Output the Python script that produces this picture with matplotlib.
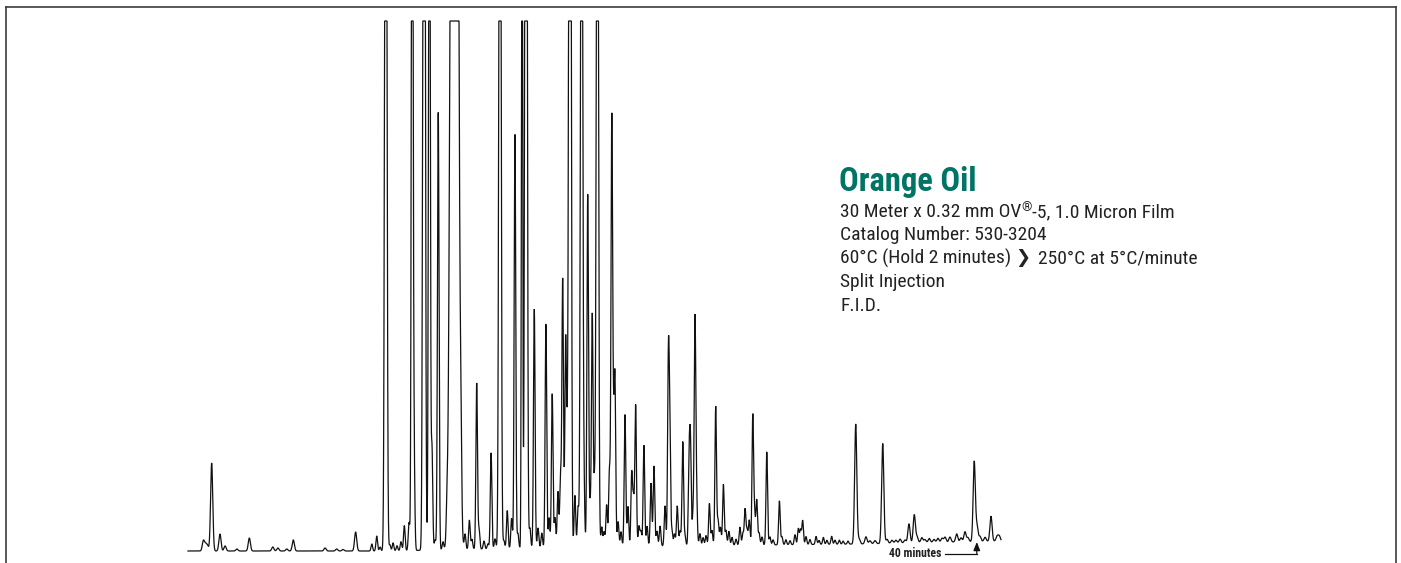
import numpy as np
import matplotlib
matplotlib.use('Agg')
import matplotlib.pyplot as plt
from matplotlib.lines import Line2D

# peak list: retention time (min), height, width (sigma, min)
rt = [0.78, 0.89, 0.99, 1.20, 1.62, 1.88, 2.48, 3.11, 4.30, 4.56,
      5.01, 5.34, 6.95, 7.54, 7.86, 8.50, 9.32, 9.57, 9.74, 10.03,
      10.24, 10.40, 10.60, 10.80, 10.97, 11.21, 11.37, 11.46, 11.97, 12.24,
      12.37, 12.53, 12.69, 12.93, 13.13, 13.51, 13.84, 14.05, 14.27, 14.40,
      14.64, 14.76, 15.01, 15.21, 15.37, 15.57, 15.82, 16.02, 16.19, 16.41,
      16.58, 16.73, 16.94, 17.14, 17.34, 17.56, 17.75, 17.94, 18.15, 18.31,
      18.47, 18.61, 18.76, 18.89, 19.00, 19.15, 19.24, 19.37, 19.62, 19.78,
      19.96, 20.08, 20.27, 20.39, 20.50, 20.61, 20.76, 20.98, 21.10, 21.23,
      21.37, 21.49, 21.57, 21.65, 21.81, 21.96, 22.16, 22.31, 22.50, 22.59,
      22.70, 22.87, 22.97, 23.12, 23.28, 23.48, 23.63, 23.78, 23.94, 24.19,
      24.36, 24.43, 24.54, 24.67, 24.81, 24.95, 25.09, 25.20, 25.41, 25.48,
      25.61, 25.71, 25.79, 25.96, 26.12, 26.27, 26.44, 26.57, 26.76, 26.88,
      27.00, 27.15, 27.28, 27.43, 27.59, 27.79, 27.99, 28.14, 28.25, 28.35,
      28.46, 28.64, 28.73, 28.84, 28.96, 29.11, 29.35, 29.51, 29.67, 29.99,
      30.12, 30.32, 30.53, 30.78, 30.95, 31.06, 31.17, 31.34, 31.54, 31.85,
      32.00, 32.22, 32.40, 32.64, 32.81, 33.03, 33.22, 33.47, 33.86, 34.03,
      34.38, 34.58, 34.84, 35.23, 35.45, 35.70, 35.90, 36.11, 36.36, 36.56,
      36.83, 36.97, 37.21, 37.37, 37.59, 37.83, 38.03, 38.24, 38.39, 38.64,
      38.98, 39.20, 39.40, 39.55, 39.87, 40.01, 40.16, 40.42, 40.72, 41.03,
      41.14]
height = [10, 6, 5, 88, 17, 5, 2, 13, 4, 3,
          2, 11, 3, 2, 1.5, 19, 7, 15, 4, 1200,
          6, 8, 5, 9, 25, 28, 1000, 95, 1500, 1000,
          103, 10, 438, 8, 25, 2650, 65, 15, 29, 10,
          166, 20, 8, 5, 96, 10, 1100, 8, 38, 30,
          414, 15, 800, 1500, 20, 239, 20, 15, 224, 30,
          154, 30, 56, 70, 268, 205, 90, 1500, 52, 40,
          1000, 52, 353, 40, 232, 60, 1000, 20, 15, 42,
          75, 420, 92, 163, 25, 15, 132, 40, 72, 45,
          141, 20, 15, 101, 20, 63, 80, 15, 20, 40,
          180, 110, 15, 12, 40, 15, 104, 10, 80, 96,
          30, 224, 45, 12, 8, 10, 42, 15, 139, 25,
          18, 61, 15, 14, 8, 6, 18, 12, 36, 15,
          25, 129, 30, 45, 12, 8, 93, 8, 5, 44,
          8, 5, 4, 10, 16, 15, 24, 8, 5, 8,
          4, 7, 4, 8, 4, 4, 3, 3, 120, 5,
          7, 3, 3, 100, 4, 3, 3, 4, 3, 19,
          28, 6, 5, 3, 4, 3, 4, 4, 5, 5,
          8, 4, 10, 4, 80, 15, 5, 4, 25, 5,
          5]
width = [0.04] * len(rt)
for i, t in enumerate(rt):
    if t < 9.0 or t > 33.5:
        width[i] = 0.055
for i, t in enumerate(rt):
    if height[i] >= 800:
        width[i] = 0.05
width[rt.index(12.24)] = 0.04
width[rt.index(11.37)] = 0.04
width[rt.index(16.94)] = 0.03
width[rt.index(13.51)] = 0.13

# slow baseline rise of the temperature program
drift_rt = [0, 10, 15, 24, 34, 41.2]
drift_val = [0, 0, 2, 5, 7, 10]

run_end = 41.23
clip_level = 530
arrow_rt = 40.0

t = np.arange(0, run_end, 0.004)
signal = np.interp(t, drift_rt, drift_val)
for r, h, w in zip(rt, height, width):
    signal = signal + h * np.exp(-0.5 * ((t - r) / w) ** 2)
signal = np.minimum(signal, clip_level)

fig = plt.figure(figsize=(14.01, 5.63), dpi=100)
ax = fig.add_axes([0, 0, 1, 1])
ax.axis('off')
ax.set_xlim(-188 / 19.72, (1401 - 188) / 19.72)
ax.set_ylim(-12, 551)

ax.plot(t, signal, color='#111111', lw=0.9, solid_joinstyle='miter')

cond = ['Roboto Condensed', 'DejaVu Sans']
ink = '#222222'

# 40 minute marker
ax.annotate('', xy=(arrow_rt, 9), xytext=(arrow_rt, -2.5),
            arrowprops=dict(arrowstyle='-|>,head_length=0.5,head_width=0.2',
                            color='#111111', lw=0.9, shrinkA=0, shrinkB=0))
ax.plot([38.39, arrow_rt], [-2.5, -2.5], color='#111111', lw=0.9)
ax.text(38.2, -2.5, '40 minutes', ha='right', va='center', fontsize=8.5,
        fontweight='bold', family=cond, color=ink)

# open frame (no bottom edge)
for xs, ys in [([5.5, 5.5], [563, 6.5]), ([5.5, 1396], [6.5, 6.5]),
               ([1396, 1396], [6.5, 563])]:
    fig.add_artist(Line2D([x / 1401 for x in xs], [1 - y / 563 for y in ys],
                          color='#3c3c3c', lw=1.2))

fig.text(839 / 1401, 1 - 191 / 563, 'Orange Oil', fontsize=23.5,
         fontweight='bold', family=cond, color='#007565', va='baseline')

renderer = fig.canvas.get_renderer()


def put_line(pieces, x, y):
    # pieces: (text, gap before in px, raise in px, text kwargs)
    for s, gap, lift, kw in pieces:
        x += gap
        tx = fig.text(x / 1401, 1 - (y - lift) / 563, s, va='baseline',
                      color=ink, **kw)
        x += tx.get_window_extent(renderer).width


body = dict(fontsize=14, family=cond)
x0 = 840
base = [217 + 23.4 * i for i in range(5)]

put_line([('30 Meter x 0.32 mm OV', 0, 0, body),
          ('®', 0, 6, dict(fontsize=9.5, family=cond)),
          ('-5, 1.0 Micron Film', 0.5, 0, body)], x0, base[0])
put_line([('Catalog Number: 530-3204', 0, 0, body)], x0, base[1])
put_line([('60°C (Hold 2 minutes)', 0, 0, body),
          ('❯', 4, 0.5, dict(fontsize=13, family=['DejaVu Sans'])),
          ('250°C at 5°C/minute', 8, 0, body)], x0, base[2])
put_line([('Split Injection', 0, 0, body)], x0, base[3])
put_line([('F.I.D.', 0, 0, body)], x0, base[4])

fig.savefig('out.png', dpi=100)
